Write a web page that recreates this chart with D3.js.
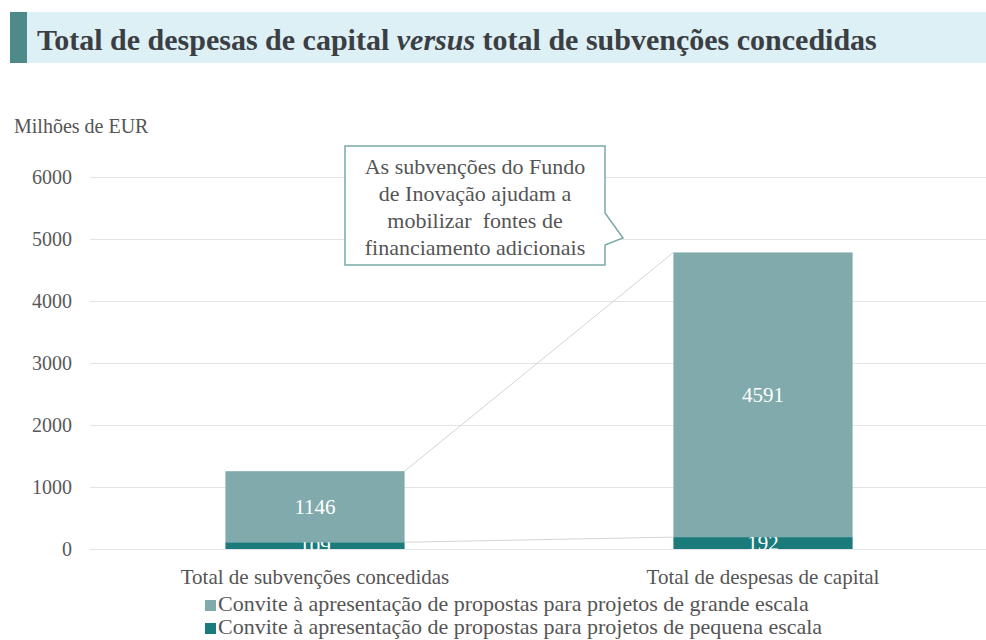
<!DOCTYPE html>
<meta charset="utf-8">
<style>
body { margin: 0; background: #fff; }
svg { display: block; }
svg text { font-family: "Liberation Serif", "Times New Roman", serif; }
.grid line { stroke: #e4e4e4; stroke-width: 1px; }
.axis text { fill: #595959; font-size: 20px; }
.lbl { fill: #fff; font-size: 21px; text-anchor: middle; }
</style>
<html>
  <head>
    <script type="text/javascript" src="https://cdn.jsdelivr.net/npm/d3@7"></script>
  </head>
  <body>
    <script type="text/javascript">
var categories = ["Total de subvenções concedidas", "Total de despesas de capital"];
var seriesNames = ["Convite à apresentação de propostas para projetos de pequena escala",
                   "Convite à apresentação de propostas para projetos de grande escala"];
var smallScale = [109, 192];
var largeScale = [1146, 4591];
var yTicks = [0, 1000, 2000, 3000, 4000, 5000, 6000];
var calloutLines = ["As subvenções do Fundo", "de Inovação ajudam a", "mobilizar  fontes de", "financiamento adicionais"];

var width = 986, height = 640
  , colors = ["#1b7a7a", "#80aaab"]
  , textColor = "#555";

var svg = d3.select("body").append("svg")
    .attr("width", width)
    .attr("height", height);

// title band
svg.append("rect").attr("x", 10).attr("y", 12).attr("width", 976).attr("height", 51).attr("fill", "#ddf0f6");
svg.append("rect").attr("x", 10).attr("y", 12).attr("width", 17).attr("height", 51).attr("fill", "#4d8a89");
var title = svg.append("text").attr("x", 37).attr("y", 50)
    .attr("fill", "#3b3e42").attr("font-size", "30px").attr("font-weight", "bold");
title.append("tspan").text("Total de despesas de capital ");
title.append("tspan").attr("font-style", "italic").text("versus");
title.append("tspan").text(" total de subvenções concedidas");

var x = d3.scaleBand().domain(categories).range([91, 987]).paddingInner(0.6).paddingOuter(0.3);
var y = d3.scaleLinear().domain([0, 6000]).range([549, 177]);

// gridlines
svg.append("g").attr("class", "grid")
  .selectAll("line").data(yTicks).enter().append("line")
    .attr("x1", 90).attr("x2", 986)
    .attr("y1", function(d) { return y(d) + 0.5; })
    .attr("y2", function(d) { return y(d) + 0.5; });

var yAxis = svg.append("g").attr("class", "axis")
    .attr("transform", "translate(78,0)")
    .call(d3.axisLeft(y).tickValues(yTicks).tickSize(0).tickPadding(6).tickFormat(d3.format("d")));
yAxis.attr("font-family", null);
yAxis.select(".domain").remove();

svg.append("text").attr("x", 14).attr("y", 133).attr("fill", textColor).attr("font-size", "20px").text("Milhões de EUR");

// stacked data
var rows = categories.map(function(c, i) { return {cat: c, small: smallScale[i], large: largeScale[i]}; });
var stack = d3.stack().keys(["small", "large"])(rows);

// series lines between bars
stack.forEach(function(layer) {
  svg.append("line")
    .attr("x1", x(categories[0]) + x.bandwidth()).attr("y1", y(layer[0][1]))
    .attr("x2", x(categories[1])).attr("y2", y(layer[1][1]))
    .attr("stroke", "#d4d4d4").attr("stroke-width", 1);
});

var layers = svg.selectAll(".layer").data(stack).enter().append("g")
    .attr("fill", function(d, i) { return colors[i]; });
layers.selectAll("rect").data(function(d) { return d; }).enter().append("rect")
    .attr("x", function(d) { return x(d.data.cat); })
    .attr("width", x.bandwidth())
    .attr("y", function(d) { return y(d[1]); })
    .attr("height", function(d) { return y(d[0]) - y(d[1]); });

layers.selectAll("text").data(function(d) { return d; }).enter().append("text")
    .attr("class", "lbl")
    .attr("x", function(d) { return x(d.data.cat) + x.bandwidth() / 2; })
    .attr("y", function(d) { return (y(d[0]) + y(d[1])) / 2 + 7; })
    .text(function(d) { return d[1] - d[0]; });

// category labels
svg.append("g").selectAll("text").data(categories).enter().append("text")
    .attr("x", function(d) { return x(d) + x.bandwidth() / 2; })
    .attr("y", 584)
    .attr("text-anchor", "middle").attr("fill", textColor).attr("font-size", "21px")
    .text(function(d) { return d; });

// legend
var legendOrder = [1, 0];
var legend = svg.append("g").selectAll("g").data(legendOrder).enter().append("g")
    .attr("transform", function(d, i) { return "translate(205," + (611 + i * 23) + ")"; });
legend.append("rect").attr("x", 0).attr("y", -11).attr("width", 11).attr("height", 11)
    .attr("fill", function(d) { return colors[d]; });
legend.append("text").attr("x", 13).attr("y", 0).attr("fill", textColor).attr("font-size", "22px")
    .text(function(d) { return seriesNames[d]; });

// callout
var box = {x: 345, y: 146, w: 260, h: 119};
var path = d3.path();
path.moveTo(box.x, box.y);
path.lineTo(box.x + box.w, box.y);
path.lineTo(box.x + box.w, box.y + 67);
path.lineTo(box.x + box.w + 18, box.y + 92);
path.lineTo(box.x + box.w, box.y + 99);
path.lineTo(box.x + box.w, box.y + box.h);
path.lineTo(box.x, box.y + box.h);
path.closePath();
svg.append("path").attr("d", path.toString()).attr("fill", "#fff").attr("stroke", "#7aa9a6").attr("stroke-width", 1.5);
svg.append("g").selectAll("text").data(calloutLines).enter().append("text")
    .attr("x", box.x + box.w / 2)
    .attr("y", function(d, i) { return 174 + i * 27; })
    .attr("text-anchor", "middle").attr("fill", textColor).attr("font-size", "22px")
    .style("white-space", "pre")
    .text(function(d) { return d; });
    </script>
  </body>
</html>
